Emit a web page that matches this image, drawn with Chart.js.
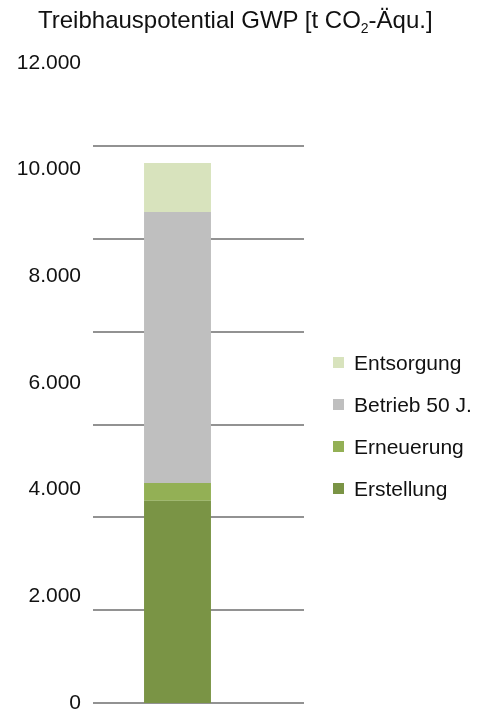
<!DOCTYPE html>
<html lang="de">
<head>
<meta charset="utf-8">
<title>Treibhauspotential GWP</title>
<script src="https://cdn.jsdelivr.net/npm/chart.js@4"></script>
<style>
    body {
        margin: 0;
        background: #ffffff;
        overflow: hidden;
        font-family: "Liberation Sans", Arial, sans-serif;
        color: #111111;
    }
    #wrap {
        position: relative;
        width: 492px;
        height: 711px;
    }
    #title {
        position: absolute;
        left: 38px;
        top: 8px;
        font-size: 24px;
        line-height: 24px;
        white-space: nowrap;
    }
    #title sub {
        font-size: 14px;
        vertical-align: -5px;
        line-height: 0;
    }
    #legend {
        position: absolute;
        left: 333px;
        top: 341px;
    }
    .item {
        display: flex;
        align-items: center;
        height: 42px;
        font-size: 21px;
        line-height: 21px;
        white-space: nowrap;
    }
    .swatch {
        width: 11px;
        height: 11px;
        margin-right: 10px;
    }
</style>
</head>
<body>
<div id="wrap">
    <canvas id="gwpChart"></canvas>
    <div id="title">Treibhauspotential GWP [t CO<sub>2</sub>-Äqu.]</div>
    <div id="legend"></div>
</div>
<script>
// Lebenszyklusphasen, von unten nach oben gestapelt
const categories = [""];
const phases = ["Erstellung", "Erneuerung", "Betrieb 50 J.", "Entsorgung"];
const phaseValues = [3790, 335, 5080, 920];
const phaseColors = ["#7a9445", "#93b055", "#bfbfbf", "#d8e3bd"];

// Achsenbeschriftung
const yTicks = [0, 2000, 4000, 6000, 8000, 10000, 12000];
const yTickLabels = ["0", "2.000", "4.000", "6.000", "8.000", "10.000", "12.000"];

const datasets = phases.map((name, i) => ({
    label: name,
    data: [phaseValues[i]],
    backgroundColor: phaseColors[i],
    borderWidth: 0,
    categoryPercentage: 1,
    barPercentage: 0.396
}));

const ctx = document.getElementById("gwpChart").getContext("2d");
const chart = new Chart(ctx, {
    type: "bar",
    data: {
        labels: categories,
        datasets: datasets
    },
    options: {
        responsive: true,
        maintainAspectRatio: false,
        animation: false,
        layout: {
            padding: { top: 63, left: 0, right: 188, bottom: 8 }
        },
        plugins: {
            legend: { display: false },
            title: { display: false },
            tooltip: { enabled: false }
        },
        scales: {
            x: {
                stacked: true,
                display: false
            },
            y: {
                stacked: true,
                position: "left",
                min: 0,
                max: 12000,
                afterBuildTicks: axis => {
                    axis.ticks = yTicks.map(v => ({ value: v }));
                },
                // feste Achsbreite, Beschriftung darf über den Rand hinausragen
                afterFit: axis => {
                    axis.width = 93;
                    axis.paddingTop = 0;
                    axis.paddingBottom = 0;
                },
                grid: { display: false, drawTicks: false },
                border: { display: false },
                ticks: {
                    padding: 12,
                    color: "#111111",
                    font: { family: "'Liberation Sans', Arial, sans-serif", size: 21 },
                    callback: value => yTickLabels[yTicks.indexOf(value)]
                }
            },
            // Hilfslinien im eigenen Raster, rechts bis unter die Legende verlängert
            grid: {
                type: "linear",
                position: "right",
                min: 0,
                max: 6.897,
                border: { display: false },
                grid: {
                    color: "#929292",
                    lineWidth: 2,
                    drawTicks: true,
                    tickLength: 42
                },
                ticks: {
                    display: false,
                    stepSize: 1,
                    includeBounds: false
                }
            }
        }
    }
});

// Legende: oberste Phase zuerst
const legend = document.getElementById("legend");
chart.data.datasets.slice().reverse().forEach(ds => {
    const item = document.createElement("div");
    item.className = "item";
    const swatch = document.createElement("span");
    swatch.className = "swatch";
    swatch.style.background = ds.backgroundColor;
    const text = document.createElement("span");
    text.textContent = ds.label;
    item.appendChild(swatch);
    item.appendChild(text);
    legend.appendChild(item);
});
</script>
</body>
</html>
